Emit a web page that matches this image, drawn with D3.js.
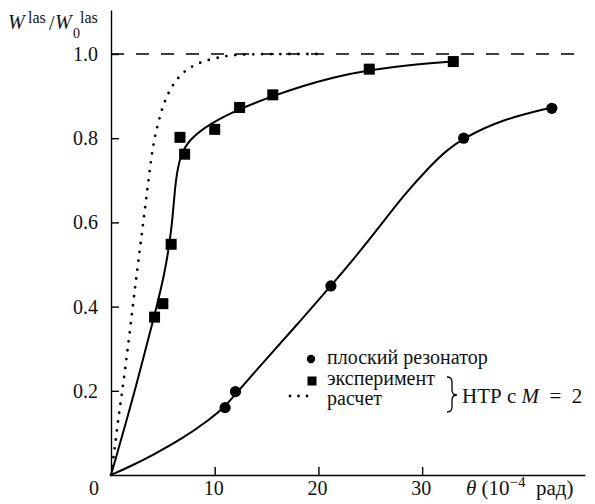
<!DOCTYPE html>
<html lang="ru">
<head>
  <meta charset="UTF-8">
  <title>W las / W0 las vs theta</title>
  <script src="https://d3js.org/d3.v7.min.js"></script>
  <style>
    body {
      margin: 0;
      background: #fff;
    }

    svg {
      display: block;
    }

    .curve {
      fill: none;
      stroke: #000;
      stroke-width: 2px;
    }

    .dotted {
      fill: none;
      stroke: #000;
      stroke-width: 2.8px;
      stroke-linecap: round;
      stroke-dasharray: 0 9;
    }

    .axis path, .axis line {
      stroke: #000;
      stroke-width: 1.4px;
    }

    .axis text {
      display: none;
    }

    .lbl {
      font-size: 20px;
      fill: #111;
    }
  </style>
</head>
<body>
  <svg width="595" height="504"></svg>

  <script>
    const FONT = "Liberation Serif";

    // flat resonator, measured points and fit line
    const flatPoints = [[11.0, 0.16], [12.0, 0.198], [21.2, 0.449], [34.0, 0.80], [42.5, 0.871]];
    const flatCurve = [[0, 0], [0, 0], [2, 0.022], [4, 0.047], [6.8, 0.085], [9.4, 0.13], [11, 0.162],
      [12.1, 0.195], [14.7, 0.268], [17.9, 0.356], [21.2, 0.449], [23.7, 0.522], [25.9, 0.59],
      [28.2, 0.664], [30.8, 0.735], [32.4, 0.772], [34, 0.8], [37.5, 0.843], [42.5, 0.873], [42.5, 0.873]];

    // HTP with M = 2, experiment
    const expPoints = [[4.2, 0.375], [5.0, 0.407], [5.8, 0.548], [6.65, 0.802], [7.1, 0.762],
      [10.0, 0.821], [12.4, 0.873], [15.6, 0.903], [24.9, 0.964], [33.0, 0.982]];
    const expCurve = [[0, 0], [0, 0], [2.2, 0.19], [3.4, 0.305], [4.3, 0.39], [5.2, 0.48], [5.9, 0.59],
      [6.2, 0.7], [6.7, 0.762], [7.6, 0.798], [9.5, 0.834], [12.4, 0.87], [15.6, 0.9],
      [18.2, 0.922], [21.5, 0.945], [24.9, 0.962], [29, 0.975], [33, 0.982], [33, 0.982]];

    // HTP with M = 2, calculation
    const calcCurve = [[0, 0], [0, 0], [0.32, 0.055], [0.7, 0.135], [1.19, 0.216], [1.83, 0.344],
      [2.48, 0.479], [3.12, 0.6], [3.85, 0.75], [4.24, 0.808], [5.0, 0.878], [5.53, 0.907],
      [6.0, 0.928], [6.65, 0.949], [7.45, 0.966], [8.42, 0.978], [9.48, 0.987], [10.83, 0.994],
      [11.8, 0.998], [14, 1.0], [20.6, 1.0], [20.6, 1.0]];

    const xTicks = [10, 20, 30];
    const xTickLabels = ["10", "20", "30"];
    const yTicks = [0.2, 0.4, 0.6, 0.8, 1.0];
    const yTickLabels = ["0.2", "0.4", "0.6", "0.8", "1.0"];
    const refLevel = 1.0;

    const svg = d3.select("svg");

    const x = d3.scaleLinear().domain([0, 45.7]).range([111, 585]);
    const y = d3.scaleLinear().domain([0, 1.1045]).range([475, 10]);

    function label(sel, px, py) {
      return sel.append("text")
        .attr("class", "lbl")
        .attr("font-family", FONT)
        .style("font-family", `"${FONT}", "Times New Roman", serif`)
        .attr("x", px).attr("y", py);
    }

    // Axes, ticks pointing inward
    svg.append("g")
      .attr("class", "axis")
      .attr("transform", `translate(0,${y(0)})`)
      .call(d3.axisBottom(x).tickValues(xTicks).tickSizeInner(-8).tickSizeOuter(0));

    svg.append("g")
      .attr("class", "axis")
      .attr("transform", `translate(${x(0)},0)`)
      .call(d3.axisLeft(y).tickValues(yTicks).tickSizeInner(-8).tickSizeOuter(0));

    xTicks.forEach((d, i) => {
      label(svg, x(d) - 1, 495).attr("text-anchor", "middle").text(xTickLabels[i]);
    });
    label(svg, x(0) - 17, 495).attr("text-anchor", "middle").text("0");

    yTicks.forEach((d, i) => {
      label(svg, x(0) - 13, y(d) + 7).attr("text-anchor", "end").text(yTickLabels[i]);
    });

    // axis titles
    const xt = label(svg, 466, 495).style("font-size", "21px");
    xt.append("tspan").style("font-style", "italic").text("θ");
    xt.append("tspan").text(" (10");
    xt.append("tspan").attr("dy", -8).style("font-size", "15px").text("−4");
    xt.append("tspan").attr("dy", 8).text("\u2002рад)");

    label(svg, 8, 29).style("font-style", "italic").text("W");
    label(svg, 28, 23).style("font-size", "16px").text("las");
    label(svg, 49, 30).text("/");
    label(svg, 55, 29).style("font-style", "italic").text("W");
    label(svg, 73, 38).style("font-size", "14px").text("0");
    label(svg, 80, 23).style("font-size", "16px").text("las");

    // dashed reference level
    svg.append("line")
      .attr("x1", x(0)).attr("x2", x(45.1))
      .attr("y1", y(refLevel)).attr("y2", y(refLevel))
      .attr("stroke", "#000").attr("stroke-width", 1.6)
      .attr("stroke-dasharray", "13 12");

    const line = d3.line()
      .x(d => x(d[0]))
      .y(d => y(d[1]))
      .curve(d3.curveBasis);

    svg.append("path").datum(calcCurve).attr("class", "dotted").attr("d", line);
    svg.append("path").datum(expCurve).attr("class", "curve").attr("d", line);
    svg.append("path").datum(flatCurve).attr("class", "curve").attr("d", line);

    svg.selectAll(".sq")
      .data(expPoints)
      .enter().append("rect")
      .attr("x", d => x(d[0]) - 5.5)
      .attr("y", d => y(d[1]) - 5.5)
      .attr("width", 11)
      .attr("height", 11)
      .attr("fill", "#000");

    svg.selectAll(".ci")
      .data(flatPoints)
      .enter().append("circle")
      .attr("cx", d => x(d[0]))
      .attr("cy", d => y(d[1]))
      .attr("r", 5.6)
      .attr("fill", "#000");

    // Legend
    const lg = svg.append("g");
    lg.append("circle").attr("cx", 311).attr("cy", 359).attr("r", 4.2).attr("fill", "#000");
    lg.append("rect").attr("x", 307.5).attr("y", 376.5).attr("width", 9).attr("height", 9).attr("fill", "#000");
    [290, 298.5, 307].forEach(cx => {
      lg.append("circle").attr("cx", cx).attr("cy", 396).attr("r", 1.4).attr("fill", "#000");
    });
    label(lg, 327, 364).text("плоский резонатор");
    label(lg, 327, 385).text("эксперимент");
    label(lg, 327, 405).text("расчет");

    lg.append("path")
      .attr("d", "M447,377 Q452,377 452,382 L452,390 Q452,395 457,395 Q452,395 452,400 L452,407 Q452,412 447,412")
      .attr("fill", "none").attr("stroke", "#000").attr("stroke-width", 1.3);

    const ht = label(lg, 462, 403).style("font-size", "21px");
    ht.append("tspan").text("НТР с ");
    ht.append("tspan").style("font-style", "italic").text("M");
    ht.append("tspan").text("\u2002=\u20022");
  </script>
</body>
</html>
